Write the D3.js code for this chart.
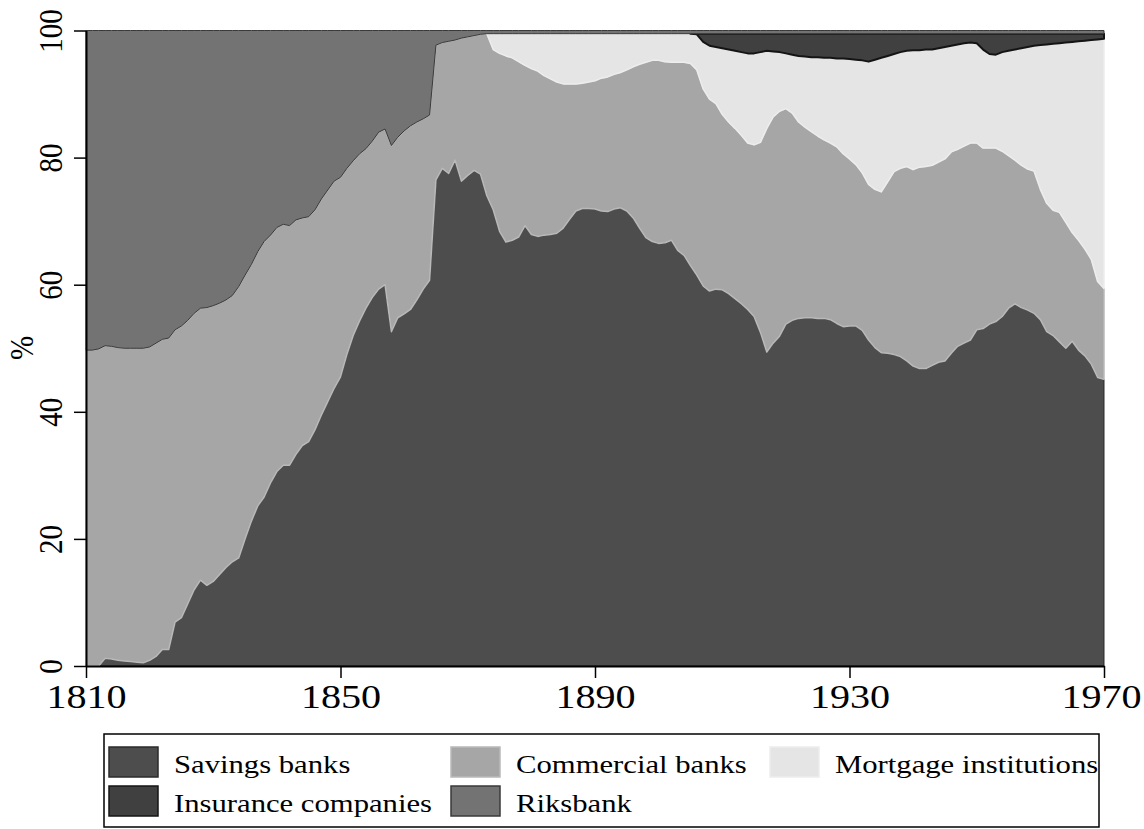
<!DOCTYPE html>
<html>
<head>
<meta charset="utf-8">
<script src="https://cdn.jsdelivr.net/npm/d3@7"></script>
<style>
  body { margin: 0; background: #fff; }
  text { font-family: "Liberation Serif", "Times New Roman", serif; fill: #000; }
</style>
</head>
<body>
<div id="chart"></div>
<script>
// shares of total, %, one value per year 1810..1970
var firstYear = 1810, lastYear = 1970;

var savings = [
  0, 0, 0, 1.2, 1.1, 0.9, 0.8, 0.7, 0.6, 0.5,
  0.9, 1.5, 2.6, 2.6, 6.9, 7.6, 9.8, 12.0, 13.5, 12.7,
  13.3, 14.4, 15.5, 16.4, 17.0, 20.0, 22.8, 25.2, 26.6, 28.8,
  30.6, 31.6, 31.6, 33.3, 34.7, 35.3, 37.2, 39.5, 41.6, 43.7,
  45.5, 49.0, 52.0, 54.3, 56.3, 58.0, 59.3, 60.0, 52.6, 54.8,
  55.4, 56.1, 57.6, 59.3, 60.7, 76.5, 78.3, 77.5, 79.6, 76.3,
  77.2, 78.0, 77.4, 74.0, 71.8, 68.4, 66.7, 67.0, 67.5, 69.3,
  67.9, 67.6, 67.8, 67.9, 68.1, 68.9, 70.3, 71.6, 72.0, 72.0,
  71.9, 71.6, 71.5, 71.9, 72.1, 71.6, 70.5, 68.9, 67.4, 66.8,
  66.5, 66.6, 67.0, 65.4, 64.6, 63.0, 61.5, 59.8, 59.0, 59.3,
  59.2, 58.6, 57.8, 57.0, 56.1, 55.0, 52.5, 49.4, 50.8, 51.9,
  53.8, 54.4, 54.7, 54.8, 54.8, 54.7, 54.7, 54.5, 53.9, 53.4,
  53.5, 53.5, 52.8, 51.3, 50.1, 49.3, 49.2, 49.0, 48.7, 48.0,
  47.2, 46.8, 46.8, 47.3, 47.8, 48.0, 49.2, 50.3, 50.8, 51.3,
  52.9, 53.1, 53.8, 54.2, 55.0, 56.3, 57.0, 56.4, 56.0, 55.5,
  54.5, 52.6, 52.0, 51.0, 50.0, 51.1, 49.7, 48.8, 47.5, 45.4,
  45.1
];

var commercial = [
  49.7, 49.7, 49.9, 49.2, 49.2, 49.2, 49.2, 49.3, 49.4, 49.5,
  49.3, 49.3, 48.8, 49.0, 46.0, 45.9, 44.6, 43.5, 42.8, 43.7,
  43.4, 42.7, 42.1, 41.9, 42.7, 41.5, 40.4, 40.0, 40.2, 39.0,
  38.4, 37.9, 37.7, 36.9, 35.8, 35.4, 34.6, 34.0, 33.3, 32.6,
  31.4, 29.3, 27.5, 26.3, 25.1, 24.6, 24.7, 24.5, 29.3, 28.4,
  28.8, 28.9, 28.0, 26.8, 26.0, 21.2, 19.8, 20.8, 18.9, 22.5,
  21.8, 21.2, 22.0, 25.5, 25.2, 28.0, 29.3, 28.7, 27.6, 25.2,
  26.1, 26.0, 25.1, 24.5, 23.8, 22.7, 21.3, 20.0, 19.7, 19.9,
  20.2, 20.9, 21.2, 21.2, 21.3, 22.2, 23.8, 25.8, 27.6, 28.5,
  28.8, 28.5, 28.0, 29.6, 30.4, 31.8, 32.3, 31.0, 30.2, 29.2,
  27.6, 27.0, 26.8, 26.5, 26.2, 27.0, 29.9, 35.2, 35.6, 35.4,
  33.9, 32.6, 30.9, 30.0, 29.3, 28.7, 28.1, 27.8, 27.8, 27.2,
  26.3, 25.4, 24.8, 24.5, 24.9, 25.3, 27.0, 28.8, 29.6, 30.6,
  30.9, 31.7, 31.8, 31.5, 31.5, 31.8, 31.7, 31.0, 31.0, 31.0,
  29.4, 28.4, 27.7, 27.3, 26.0, 24.0, 22.6, 22.4, 22.2, 22.4,
  20.5, 20.2, 19.7, 20.4, 19.8, 17.1, 17.3, 16.8, 16.5, 15.1,
  14.3
];

var mortgage = [
  0, 0, 0, 0, 0, 0, 0, 0, 0, 0,
  0, 0, 0, 0, 0, 0, 0, 0, 0, 0,
  0, 0, 0, 0, 0, 0, 0, 0, 0, 0,
  0, 0, 0, 0, 0, 0, 0, 0, 0, 0,
  0, 0, 0, 0, 0, 0, 0, 0, 0, 0,
  0, 0, 0, 0, 0, 0, 0, 0, 0, 0,
  0, 0, 0, 0, 2.5, 3.1, 3.5, 3.8, 4.4, 5.0,
  5.5, 5.9, 6.6, 7.1, 7.6, 7.9, 7.9, 7.9, 7.8, 7.6,
  7.4, 7.0, 6.8, 6.4, 6.1, 5.7, 5.2, 4.8, 4.5, 4.2,
  4.2, 4.4, 4.5, 4.5, 4.5, 4.7, 5.6, 7.4, 8.4, 8.9,
  10.4, 11.4, 12.2, 13.1, 14.1, 14.4, 14.2, 12.2, 10.3, 9.3,
  8.7, 9.2, 10.4, 11.1, 11.7, 12.4, 12.9, 13.4, 13.9, 15.0,
  15.7, 16.5, 17.7, 19.3, 20.4, 21.1, 19.8, 18.5, 18.3, 18.2,
  18.8, 18.4, 18.4, 18.2, 17.9, 17.6, 16.7, 16.5, 16.2, 15.8,
  15.7, 15.5, 14.8, 14.7, 15.6, 16.5, 17.4, 18.4, 19.2, 19.7,
  22.7, 25.0, 26.2, 26.6, 28.3, 30.0, 31.3, 32.8, 34.5, 38.1,
  39.3
];

var insurance = [
  0, 0, 0, 0, 0, 0, 0, 0, 0, 0,
  0, 0, 0, 0, 0, 0, 0, 0, 0, 0,
  0, 0, 0, 0, 0, 0, 0, 0, 0, 0,
  0, 0, 0, 0, 0, 0, 0, 0, 0, 0,
  0, 0, 0, 0, 0, 0, 0, 0, 0, 0,
  0, 0, 0, 0, 0, 0, 0, 0, 0, 0,
  0, 0, 0, 0, 0, 0, 0, 0, 0, 0,
  0, 0, 0, 0, 0, 0, 0, 0, 0, 0,
  0, 0, 0, 0, 0, 0, 0, 0, 0, 0,
  0, 0, 0, 0, 0, 0, 0.1, 1.3, 1.9, 2.1,
  2.3, 2.5, 2.7, 2.9, 3.1, 3.1, 2.9, 2.7, 2.8, 2.9,
  3.1, 3.3, 3.5, 3.6, 3.7, 3.7, 3.8, 3.8, 3.9, 3.9,
  4.0, 4.1, 4.2, 4.4, 4.1, 3.8, 3.5, 3.2, 2.9, 2.7,
  2.6, 2.6, 2.5, 2.5, 2.3, 2.1, 1.9, 1.7, 1.5, 1.4,
  1.5, 2.5, 3.2, 3.3, 2.9, 2.7, 2.5, 2.3, 2.1, 1.9,
  1.8, 1.7, 1.6, 1.5, 1.4, 1.3, 1.2, 1.1, 1.0, 0.9,
  0.8
];

var riksbank = [
  50.3, 50.3, 50.1, 49.6, 49.7, 49.9, 50.0, 50.0, 50.0, 50.0,
  49.8, 49.2, 48.6, 48.4, 47.1, 46.5, 45.6, 44.5, 43.7, 43.6,
  43.3, 42.9, 42.4, 41.7, 40.3, 38.5, 36.8, 34.8, 33.2, 32.2,
  31.0, 30.5, 30.7, 29.8, 29.5, 29.3, 28.2, 26.5, 25.1, 23.7,
  23.1, 21.7, 20.5, 19.4, 18.6, 17.4, 16.0, 15.5, 18.1, 16.8,
  15.8, 15.0, 14.4, 13.9, 13.3, 2.3, 1.9, 1.7, 1.5, 1.2,
  1.0, 0.8, 0.6, 0.5, 0.5, 0.5, 0.5, 0.5, 0.5, 0.5,
  0.5, 0.5, 0.5, 0.5, 0.5, 0.5, 0.5, 0.5, 0.5, 0.5,
  0.5, 0.5, 0.5, 0.5, 0.5, 0.5, 0.5, 0.5, 0.5, 0.5,
  0.5, 0.5, 0.5, 0.5, 0.5, 0.5, 0.5, 0.5, 0.5, 0.5,
  0.5, 0.5, 0.5, 0.5, 0.5, 0.5, 0.5, 0.5, 0.5, 0.5,
  0.5, 0.5, 0.5, 0.5, 0.5, 0.5, 0.5, 0.5, 0.5, 0.5,
  0.5, 0.5, 0.5, 0.5, 0.5, 0.5, 0.5, 0.5, 0.5, 0.5,
  0.5, 0.5, 0.5, 0.5, 0.5, 0.5, 0.5, 0.5, 0.5, 0.5,
  0.5, 0.5, 0.5, 0.5, 0.5, 0.5, 0.5, 0.5, 0.5, 0.5,
  0.5, 0.5, 0.5, 0.5, 0.5, 0.5, 0.5, 0.5, 0.5, 0.5,
  0.5
];

var xTicks = [1810, 1850, 1890, 1930, 1970];
var yTicks = [0, 20, 40, 60, 80, 100];
var mortgageStart = 1873, insuranceStart = 1905;

(function () {
    'use strict';
    var width = 1144, height = 829,
        sx = 1.18, // the original picture is stretched sideways
        keys = ["savings", "commercial", "mortgage", "insurance", "riksbank"],
        series = {
            savings: {label: "Savings banks", fill: "#4d4d4d", stroke: "#2b2b2b", sw: 1},
            commercial: {label: "Commercial banks", fill: "#a6a6a6", stroke: "#b9b9b9", sw: 1.5},
            mortgage: {label: "Mortgage institutions", fill: "#e5e5e5", stroke: "#ededed", sw: 1.5},
            insurance: {label: "Insurance companies", fill: "#404040", stroke: "#141414", sw: 2},
            riksbank: {label: "Riksbank", fill: "#737373", stroke: "#3a3a3a", sw: 1}
        },
        data = savings.map(function (v, i) {
            return {
                year: firstYear + i,
                savings: v,
                commercial: commercial[i],
                mortgage: mortgage[i],
                insurance: insurance[i],
                riksbank: riksbank[i]
            };
        }),
        stacked = d3.stack().keys(keys)(data),
        x = d3.scaleLinear().domain([firstYear, lastYear]).range([86, 1104]),
        y = d3.scaleLinear().domain([0, 100]).range([666, 30.5]),
        svg, plot, ax;

    function startOf(key) {
        if (key === "mortgage") { return mortgageStart; }
        if (key === "insurance") { return insuranceStart; }
        return firstYear;
    }

    svg = d3.select("#chart").append("svg")
        .attr("width", width)
        .attr("height", height);

    plot = svg.append("g");

    plot.selectAll("path.band")
        .data(stacked)
        .enter()
        .append("path")
        .attr("class", "band")
        .attr("fill", function (d) { return series[d.key].fill; })
        .attr("stroke", function (d) { return series[d.key].stroke; })
        .attr("stroke-width", function (d) { return series[d.key].sw; })
        .attr("stroke-linejoin", "round")
        .attr("d", function (s) {
            var start = startOf(s.key);
            return d3.area()
                .defined(function (d) { return d.data.year >= start; })
                .x(function (d) { return x(d.data.year); })
                .y0(function (d) { return y(d[0]); })
                .y1(function (d) { return y(d[1]); })(s);
        });

    // x axis
    ax = svg.append("g")
        .attr("transform", "translate(0,666)")
        .call(d3.axisBottom(x).tickValues(xTicks).tickFormat(d3.format("d")).tickSize(12).tickSizeOuter(0));
    ax.select(".domain").attr("stroke", "#000").attr("stroke-width", 2);
    ax.selectAll(".tick line").attr("stroke", "#000").attr("stroke-width", 1.5);
    ax.selectAll(".tick text")
        .attr("y", 0)
        .attr("dy", 0)
        .attr("font-size", 34)
        .attr("transform", function (d) {
            // keep the last label inside the window
            var shift = d === lastYear ? -3 : 0;
            return "translate(" + shift + ",42) scale(" + sx + ",1)";
        })
        .style("font-family", '"Liberation Serif", "Times New Roman", serif');

    // y axis
    ax = svg.append("g")
        .attr("transform", "translate(86,0)")
        .call(d3.axisLeft(y).tickValues(yTicks).tickSize(12).tickSizeOuter(0));
    ax.select(".domain").attr("stroke", "#000").attr("stroke-width", 2);
    ax.selectAll(".tick line").attr("stroke", "#000").attr("stroke-width", 1.5);
    ax.selectAll(".tick text")
        .attr("x", 0)
        .attr("dy", 0)
        .attr("text-anchor", "middle")
        .attr("font-size", 29)
        .attr("transform", "translate(-24,0) scale(" + sx + ",1) rotate(-90)")
        .style("font-family", '"Liberation Serif", "Times New Roman", serif');

    svg.append("text")
        .attr("font-size", 29)
        .attr("text-anchor", "middle")
        .attr("transform", "translate(33,348) scale(" + sx + ",1) rotate(-90)")
        .text("%");

    // legend box
    var legend = svg.append("g");
    legend.append("rect")
        .attr("x", 104)
        .attr("y", 734)
        .attr("width", 995)
        .attr("height", 93)
        .attr("fill", "#fff")
        .attr("stroke", "#000")
        .attr("stroke-width", 1.5);

    var legendItems = [
        {key: "savings", col: 0, row: 0},
        {key: "commercial", col: 1, row: 0},
        {key: "mortgage", col: 2, row: 0},
        {key: "insurance", col: 0, row: 1},
        {key: "riksbank", col: 1, row: 1}
    ];
    var colX = [109, 451, 770], rowY = [747, 786];

    var item = legend.selectAll("g.item")
        .data(legendItems)
        .enter()
        .append("g")
        .attr("class", "item")
        .attr("transform", function (d) {
            return "translate(" + colX[d.col] + "," + rowY[d.row] + ")";
        });

    item.append("rect")
        .attr("width", 49)
        .attr("height", 30)
        .attr("fill", function (d) { return series[d.key].fill; })
        .attr("stroke", function (d) { return series[d.key].stroke; })
        .attr("stroke-width", 1.5);

    item.append("text")
        .attr("font-size", 26)
        .attr("transform", "translate(65,26) scale(" + sx + ",1)")
        .text(function (d) { return series[d.key].label; });
}());
</script>
</body>
</html>
